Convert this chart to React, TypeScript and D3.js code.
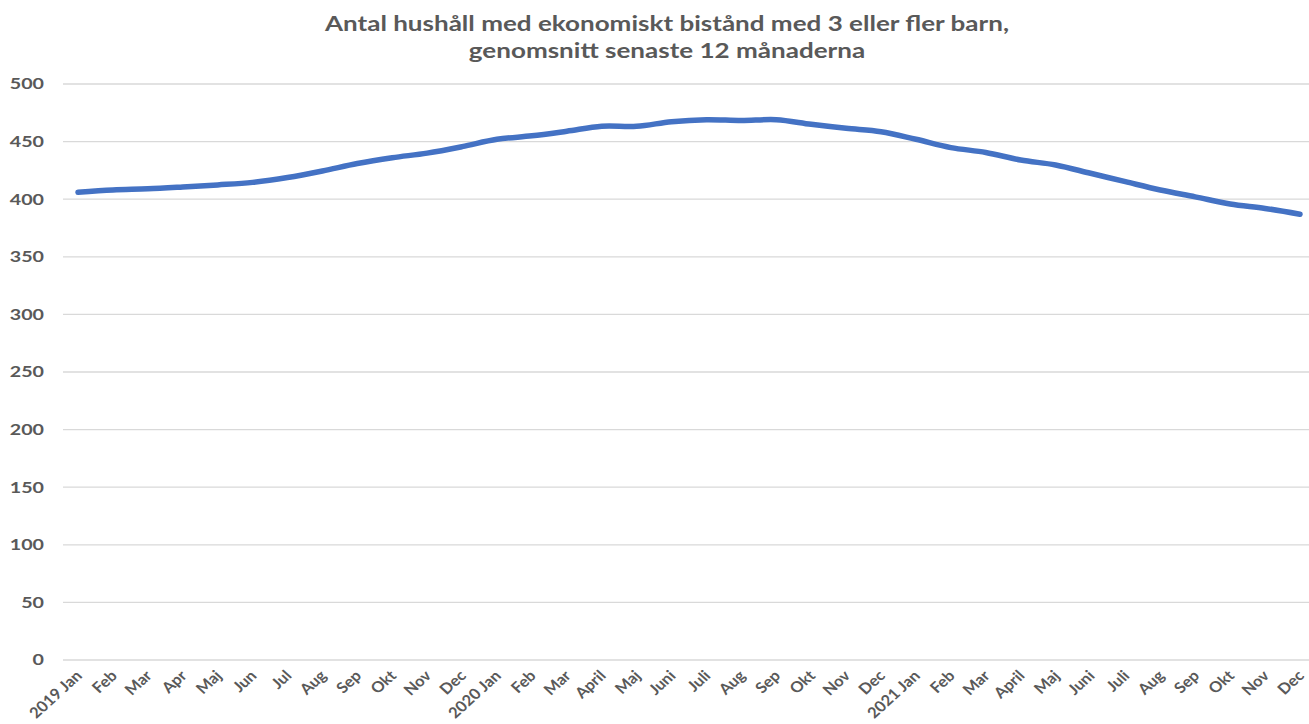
import * as d3 from 'd3';

const W = 1309;
const H = 724;

const monthLabels = [
  '2019 Jan', 'Feb', 'Mar', 'Apr', 'Maj', 'Jun', 'Jul', 'Aug', 'Sep', 'Okt', 'Nov', 'Dec',
  '2020 Jan', 'Feb', 'Mar', 'April', 'Maj', 'Juni', 'Juli', 'Aug', 'Sep', 'Okt', 'Nov', 'Dec',
  '2021 Jan', 'Feb', 'Mar', 'April', 'Maj', 'Juni', 'Juli', 'Aug', 'Sep', 'Okt', 'Nov', 'Dec',
];

const values2019 = [406, 408, 409, 410.6, 412.4, 414.6, 418.8, 424.5, 431, 436, 440, 445.6];
const values2020 = [452, 455, 459, 463.3, 463.3, 467.3, 469, 468.3, 469, 465, 461.5, 458.6];
const values2021 = [452, 444.8, 440.6, 434, 429.7, 422.5, 415.2, 408, 402, 395.8, 392, 387];

const yTicks = [0, 50, 100, 150, 200, 250, 300, 350, 400, 450, 500];

const titleLines = [
  'Antal hushåll med ekonomiskt bistånd med 3 eller fler barn,',
  'genomsnitt senaste 12 månaderna',
];

const FONT = 'Lato, "Open Sans", sans-serif';
const GRAY = '#595959';
// the reference picture is stretched sideways, so text is widened to match
const STRETCH = 1.24;

export default function App() {
  const values = [...values2019, ...values2020, ...values2021];
  const keys = monthLabels.map((_, i) => String(i));

  const x = d3.scalePoint<string>().domain(keys).range([78, 1300]);
  const y = d3.scaleLinear().domain([0, 500]).range([660, 84]);

  const line = d3
    .line<number>()
    .x((_, i) => x(keys[i]) as number)
    .y((d) => y(d))
    .curve(d3.curveCatmullRom.alpha(0.5));

  return (
    <svg
      width={W}
      height={H}
      style={{ position: 'absolute', left: 0, top: 0, background: '#fff' }}
      fontFamily={FONT}
    >
      {/* title */}
      {titleLines.map((t, i) => (
        <text
          key={i}
          transform={`translate(667,${31 + i * 27}) scale(${STRETCH},1)`}
          textAnchor="middle"
          fontSize={21}
          fontWeight={700}
          fill={GRAY}
        >
          {t}
        </text>
      ))}

      {/* grid + y labels */}
      {yTicks.map((t) => (
        <g key={t}>
          <line x1={63} x2={W} y1={y(t)} y2={y(t)} stroke="#d9d9d9" strokeWidth={1.3} />
          <text
            transform={`translate(44,${y(t)}) scale(1.27,1)`}
            dy="0.35em"
            textAnchor="end"
            fontSize={15.5}
            fontWeight={700}
            fill={GRAY}
          >
            {t}
          </text>
        </g>
      ))}

      {/* x labels */}
      {monthLabels.map((m, i) => {
        const px = (x(keys[i]) as number) + 1;
        const py = 673;
        return (
          <text
            key={i}
            transform={`translate(${px},${py}) scale(1.1,1) rotate(-45)`}
            textAnchor="end"
            dy="0.35em"
            fontSize={15}
            fontWeight={700}
            fill={GRAY}
          >
            {m}
          </text>
        );
      })}

      {/* series */}
      <path
        d={line(values) || ''}
        fill="none"
        stroke="#4472c4"
        strokeWidth={5.5}
        strokeLinecap="round"
        strokeLinejoin="round"
      />
    </svg>
  );
}
